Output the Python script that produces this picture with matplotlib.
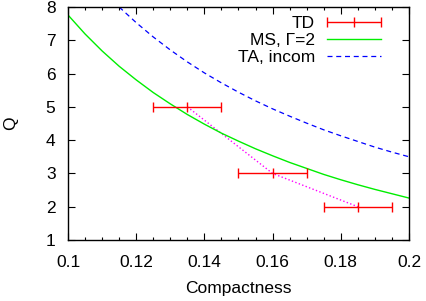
import matplotlib
matplotlib.use("Agg")
import matplotlib.pyplot as plt
from matplotlib.ticker import MultipleLocator, FuncFormatter
from matplotlib.legend_handler import HandlerErrorbar

plt.rcParams['font.family'] = ['Liberation Sans', 'DejaVu Sans']
FS = 12.5
plt.rcParams['font.size'] = FS

# TD data points with compactness error
td_x = [0.135, 0.16, 0.185]
td_q = [5, 3, 2]
td_xerr = [0.01, 0.01, 0.01]

# MS, Gamma=2 curve
ms_x = [0.100, 0.105, 0.110, 0.115, 0.120, 0.125, 0.130, 0.135, 0.140, 0.145, 0.150,
        0.155, 0.160, 0.165, 0.170, 0.175, 0.180, 0.185, 0.190, 0.195, 0.200]
ms_q = [7.76, 7.19, 6.68, 6.22, 5.81, 5.43, 5.09, 4.77, 4.48, 4.21, 3.97,
        3.74, 3.53, 3.33, 3.15, 2.97, 2.81, 2.66, 2.52, 2.39, 2.26]

# TA, incompressible curve
ta_x = [0.115, 0.120, 0.125, 0.130, 0.135, 0.140, 0.145, 0.150, 0.155, 0.160,
        0.165, 0.170, 0.175, 0.180, 0.185, 0.190, 0.195, 0.200]
ta_q = [8.00, 7.53, 7.10, 6.71, 6.35, 6.02, 5.72, 5.44, 5.18, 4.94,
        4.72, 4.51, 4.31, 4.13, 3.96, 3.79, 3.64, 3.50]

fig = plt.figure(figsize=(4.27, 3.01), dpi=100)
ax = fig.add_axes([68/427, 1 - 240/301, (409-68)/427, (240-7)/301])

ax.plot(td_x, td_q, color='#ff00ff', linestyle=':', linewidth=1.0, zorder=1)
td = ax.errorbar(td_x, td_q, xerr=td_xerr, fmt='|', color='#ff0000', ecolor='#ff0000',
                 markersize=7, elinewidth=1.0, capsize=3.5, capthick=1.0, label='TD', zorder=3)
ms, = ax.plot(ms_x, ms_q, color='#00ee00', linewidth=1.0, label='MS, \u0393=2', zorder=2)
ta, = ax.plot(ta_x, ta_q, color='#0000ff', linewidth=0.9, linestyle=(0, (4, 3)),
              label='TA, incom', zorder=2)

ax.set_xlim(0.1, 0.2)
ax.set_ylim(1, 8)
ax.xaxis.set_major_locator(MultipleLocator(0.02))
ax.xaxis.set_minor_locator(MultipleLocator(0.005))
ax.yaxis.set_major_locator(MultipleLocator(1))
ax.xaxis.set_major_formatter(FuncFormatter(lambda v, p: '%g' % round(v, 3)))
ax.tick_params(which='both', direction='in', top=True, right=True, labelsize=FS)
ax.tick_params(which='major', length=5, width=0.8)
ax.tick_params(which='minor', length=2.5, width=0.8)
ax.tick_params(axis='x', pad=11)
ax.tick_params(axis='y', pad=9)
for s in ax.spines.values():
    s.set_linewidth(1.0)

ax.set_xlabel('Compactness', fontsize=FS, labelpad=8)
ax.set_ylabel('Q', fontsize=FS, labelpad=20)

hl = 3.1
ax.legend([td, ms, ta], ['TD', 'MS, \u0393=2', 'TA, incom'],
          handler_map={type(td): HandlerErrorbar(xerr_size=hl / 2)},
          loc='upper right', bbox_to_anchor=(0.918, 0.96), frameon=False, markerfirst=False,
          borderpad=0, borderaxespad=0, handlelength=hl, handletextpad=0.7, labelspacing=0.1,
          fontsize=FS)

fig.savefig('out.png', dpi=100)
